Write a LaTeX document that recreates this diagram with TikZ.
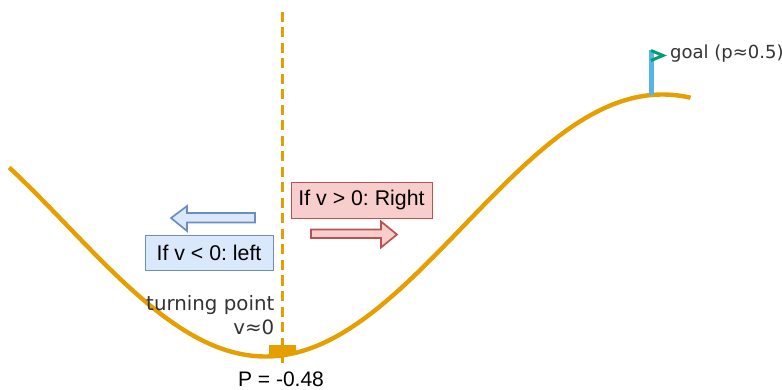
\documentclass[tikz,border=0pt]{standalone}
\usepackage{fontspec}
\setmainfont{Liberation Sans}
\newfontfamily\dejavu{DejaVu Sans}
\usetikzlibrary{arrows.meta,positioning,shapes.arrows}
\definecolor{track}{HTML}{E69F00}
\definecolor{pole}{HTML}{56B4E9}
\definecolor{pennant}{HTML}{009E73}
\definecolor{inkgray}{HTML}{333333}
\definecolor{leftfill}{HTML}{DAE8FC}
\definecolor{leftline}{HTML}{6C8EBF}
\definecolor{rightfill}{HTML}{F8CECC}
\definecolor{rightline}{HTML}{B85450}
\frenchspacing
\tikzset{
  rulebox/.style={draw,line width=0.8pt,inner sep=0pt,font=\fontsize{21.3}{25}\selectfont,text=black},
  note/.style={font=\dejavu\fontsize{19.8}{24.5}\selectfont,text=inkgray,align=right},
  blockarrow/.style={line width=1.7pt,line join=miter}
}
\begin{document}
\begin{tikzpicture}[x=1pt,y=-1pt]
  \useasboundingbox (0,0) rectangle (782,390);
  % hill
  \draw[track,line width=4.4pt,samples=160,domain=-1.2:0.6,smooth]
    plot ({464+379*\x},{225.5-131*sin(3*\x r)});
  \draw[track,line width=3pt,dash pattern=on 10pt off 5.5pt] (282.4,12) -- (282.4,368);
  \fill[track] (269,345) rectangle (296,355);
  % flag
  \draw[pole,line width=4.6pt] (651.5,95) -- (651.5,50);
  \draw[pennant,line width=3pt,line join=miter] (651,50.5) -- (663,55.5) -- (651,60.5);
  \node[font=\dejavu\fontsize{18}{20}\selectfont,text=inkgray,anchor=west,inner sep=0pt] (goal) at (670,53.5) {goal (p≈0.5)};
  % rules
  \node[rulebox,draw=rightline,fill=rightfill,minimum width=141pt,minimum height=36pt] (rightbox) at (361.5,200) {If v > 0: Right};
  \node[rulebox,draw=leftline,fill=leftfill,minimum width=128pt,minimum height=35pt] (leftbox) at (209,253) {If v < 0: left};
  \draw[blockarrow,draw=leftline,fill=leftfill] (255,213) -- (187,213) -- (187,206) -- (171,218) -- (187,231) -- (187,222.5) -- (255,222.5) -- cycle;
  \draw[blockarrow,draw=rightline,fill=rightfill] (311,229.5) -- (381,229.5) -- (381,221.5) -- (397,234.5) -- (381,247.5) -- (381,238) -- (311,238) -- cycle;
  % labels
  \node[note,anchor=north east,inner sep=0pt] (turning) at (274.5,295) {turning point\\v≈0};
  \node[font=\fontsize{21}{24}\selectfont,text=black,anchor=base,inner sep=0pt] (position) at (281,386) {P = -0.48};
\end{tikzpicture}
\end{document}
